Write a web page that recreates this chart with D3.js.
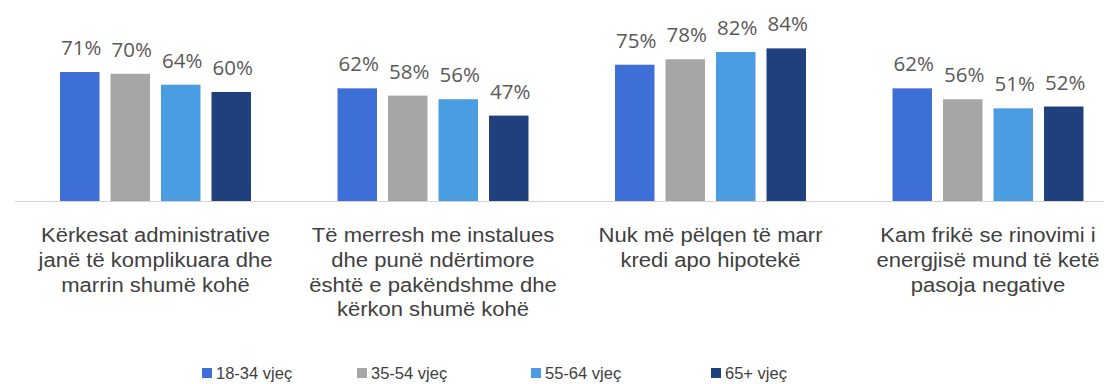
<!DOCTYPE html>
<html>
<head>
<meta charset="utf-8">
<script src="https://cdn.jsdelivr.net/npm/d3@7"></script>
<style>
  html, body { margin: 0; padding: 0; background: #ffffff; }
  svg { display: block; }
</style>
</head>
<body>
<svg id="chart" width="1117" height="384"></svg>
<script>
// Categories (each label split into lines)
const categories = [
  ["Kërkesat administrative", "janë të komplikuara dhe", "marrin shumë kohë"],
  ["Të merresh me instalues", "dhe punë ndërtimore", "është e pakëndshme dhe", "kërkon shumë kohë"],
  ["Nuk më pëlqen të marr", "kredi apo hipotekë"],
  ["Kam frikë se rinovimi i", "energjisë mund të ketë", "pasoja negative"]
];

// Age groups (series)
const seriesNames = ["18-34 vjeç", "35-54 vjeç", "55-64 vjeç", "65+ vjeç"];

// Values in percent, one array per age group, in category order
const age18_34 = [71, 62, 75, 62];
const age35_54 = [70, 58, 78, 56];
const age55_64 = [64, 56, 82, 51];
const age65plus = [60, 47, 84, 52];

const seriesValues = [age18_34, age35_54, age55_64, age65plus];
const colors = ["#3d6fd6", "#a6a6a6", "#4a9de0", "#1f3f7d"];

const svg = d3.select("#chart");

// Layout
const baseline = 201;
const x0 = d3.scaleBand()
  .domain(d3.range(categories.length))
  .range([16.75, 1126.75])
  .padding(0);

const x1 = d3.scaleBand()
  .domain(d3.range(seriesNames.length))
  .range([0, x0.bandwidth()])
  .paddingInner(0.218)
  .paddingOuter(0.857);

const y = d3.scaleLinear()
  .domain([0, 100])
  .range([baseline, baseline - 181.7]);

// Baseline axis
svg.append("line")
  .attr("x1", 15).attr("x2", 1104)
  .attr("y1", baseline + 0.5).attr("y2", baseline + 0.5)
  .attr("stroke", "#d4d4d4")
  .attr("stroke-width", 1.2);

// Bars and value labels
const groups = svg.selectAll("g.group")
  .data(categories)
  .join("g")
  .attr("class", "group")
  .attr("transform", (d, i) => `translate(${x0(i)},0)`);

groups.each(function(cat, ci) {
  const g = d3.select(this);
  const cells = seriesValues.map((vals, si) => ({ si, v: vals[ci] }));

  g.selectAll("rect")
    .data(cells)
    .join("rect")
    .attr("x", d => x1(d.si))
    .attr("width", x1.bandwidth())
    .attr("y", d => y(d.v))
    .attr("height", d => baseline - y(d.v))
    .attr("fill", d => colors[d.si]);

  g.selectAll("text.val")
    .data(cells)
    .join("text")
    .attr("class", "val")
    .attr("x", d => x1(d.si) + x1.bandwidth() / 2 + 1.5)
    .attr("y", d => y(d.v) - 17)
    .attr("text-anchor", "middle")
    .attr("font-family", "'Open Sans', sans-serif")
    .attr("font-size", "20.5px")
    .attr("fill", "#595959")
    .text(d => d.v + "%");
});

// Category labels (multi-line, centered under each group)
const catLabel = svg.selectAll("g.cat")
  .data(categories)
  .join("g")
  .attr("class", "cat")
  .attr("transform", (d, i) => `translate(${x0(i) + x0.bandwidth() / 2},242) scale(1.13,1)`);

catLabel.each(function(lines) {
  d3.select(this).selectAll("text")
    .data(lines)
    .join("text")
    .attr("x", 0)
    .attr("y", (d, i) => i * 24.8)
    .attr("text-anchor", "middle")
    .attr("font-family", "'Liberation Sans', Arial, sans-serif")
    .attr("font-size", "19.5px")
    .attr("fill", "#404040")
    .text(d => d);
});

// Legend
const legendX = [202, 357, 531, 711];
const legend = svg.selectAll("g.legend")
  .data(seriesNames)
  .join("g")
  .attr("class", "legend")
  .attr("transform", (d, i) => `translate(${legendX[i]},368)`);

legend.append("rect")
  .attr("width", 10).attr("height", 10)
  .attr("fill", (d, i) => colors[i]);

legend.append("text")
  .attr("x", 14)
  .attr("y", 10.5)
  .attr("font-family", "'Liberation Sans', Arial, sans-serif")
  .attr("font-size", "16.5px")
  .attr("fill", "#404040")
  .text(d => d);
</script>
</body>
</html>
